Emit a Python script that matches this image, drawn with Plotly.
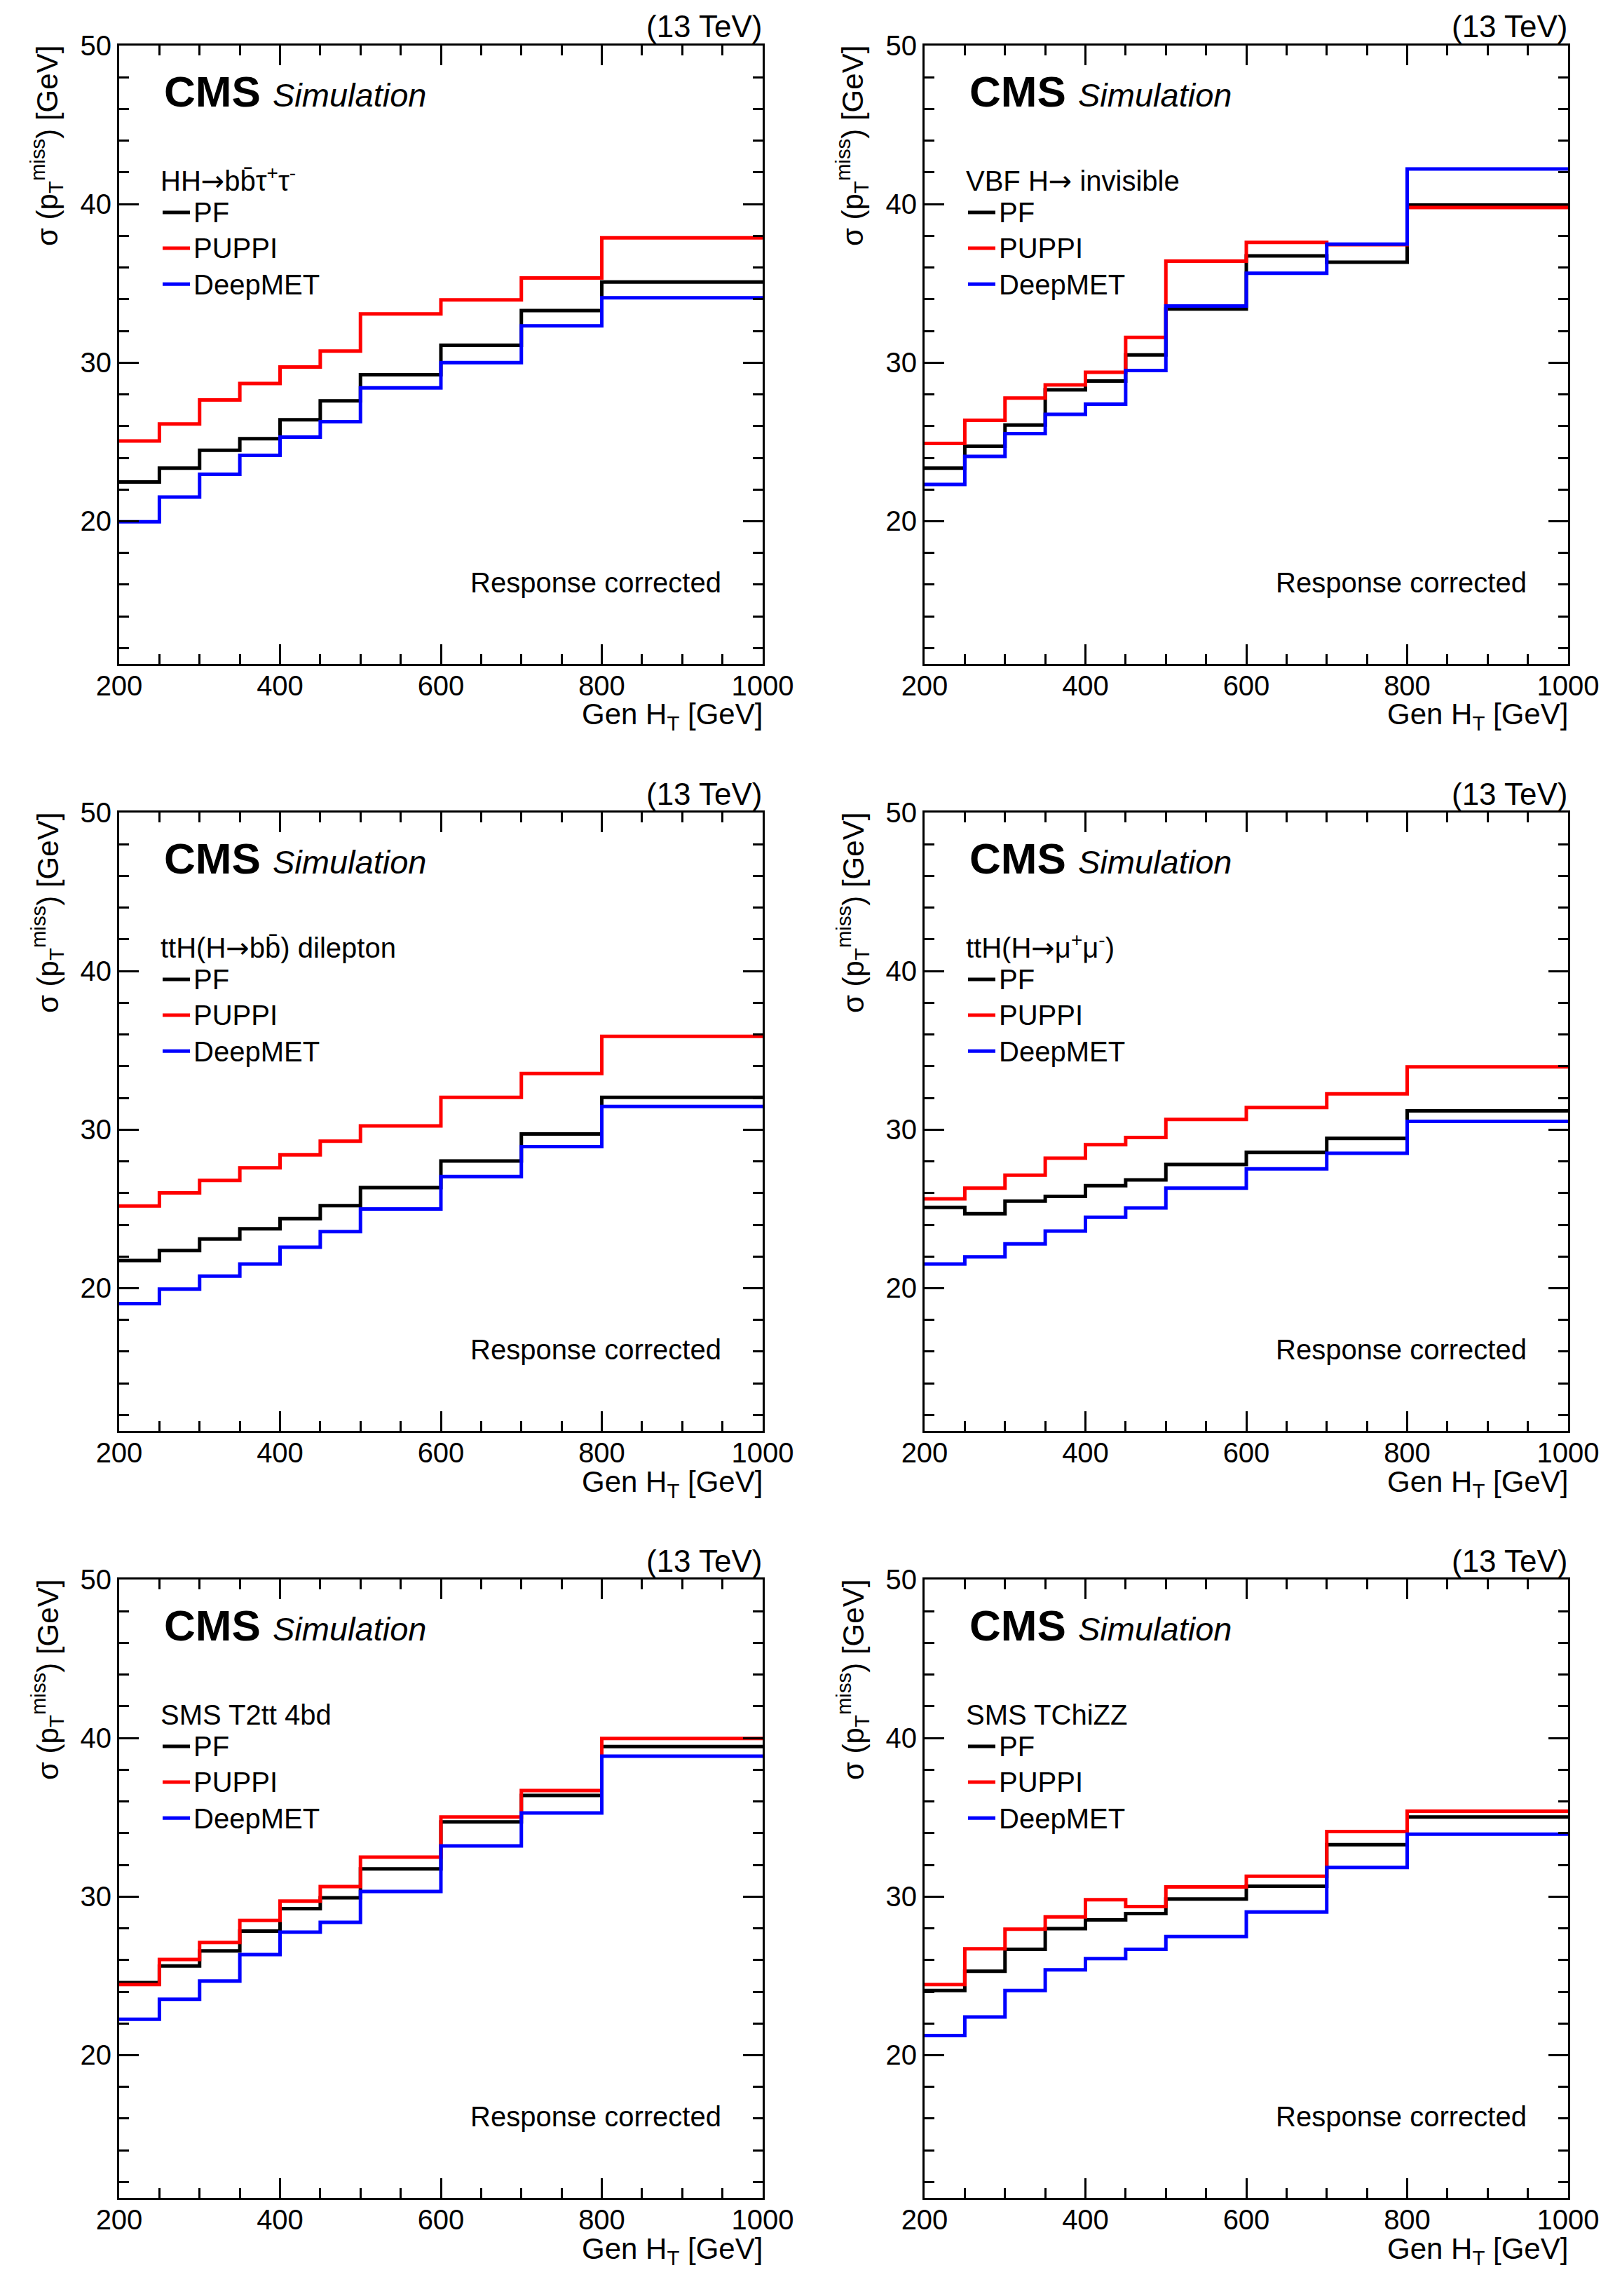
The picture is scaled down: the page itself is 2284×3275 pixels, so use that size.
import plotly.graph_objects as go

W, H = 2284, 3275

# ---------------- data ----------------
bin_edges = [200, 250, 300, 350, 400, 450, 500, 600, 700, 800, 1000]

ARROW = "<span style='font-family:DejaVu Sans'>\u2192</span>"
panel_titles = [
    "HH" + ARROW + "bb\u0304\u03c4<sup>+</sup>\u03c4<sup>-</sup>",
    "VBF H" + ARROW + " invisible",
    "ttH(H" + ARROW + "bb\u0304) dilepton",
    "ttH(H" + ARROW + "\u03bc<sup>+</sup>\u03bc<sup>-</sup>)",
    "SMS T2tt 4bd",
    "SMS TChiZZ",
]

series_names = ["PF", "PUPPI", "DeepMET"]
series_colors = ["#000000", "#ff0000", "#0000ff"]

# HH -> bb tau tau
pf_hhbbtt = [22.47, 23.35, 24.48, 25.21, 26.40, 27.59, 29.24, 31.10, 33.29, 35.09]
puppi_hhbbtt = [25.06, 26.13, 27.65, 28.69, 29.73, 30.73, 33.08, 33.96, 35.34, 37.87]
deepmet_hhbbtt = [19.97, 21.52, 22.96, 24.15, 25.30, 26.28, 28.41, 30.00, 32.32, 34.09]

# VBF H -> invisible
pf_vbfinv = [23.35, 24.73, 26.07, 28.29, 28.84, 30.49, 33.38, 36.74, 36.34, 39.94]
puppi_vbfinv = [24.91, 26.37, 27.77, 28.60, 29.39, 31.59, 36.40, 37.59, 37.44, 39.79]
deepmet_vbfinv = [22.32, 24.09, 25.52, 26.74, 27.38, 29.51, 33.57, 35.64, 37.47, 42.22]

# ttH(H -> bb) dilepton
pf_tthbb = [21.74, 22.38, 23.11, 23.75, 24.39, 25.21, 26.34, 28.02, 29.73, 32.04]
puppi_tthbb = [25.18, 26.01, 26.80, 27.59, 28.41, 29.27, 30.24, 32.04, 33.54, 35.88]
deepmet_tthbb = [19.02, 19.94, 20.76, 21.52, 22.59, 23.57, 25.00, 27.04, 28.93, 31.46]

# ttH(H -> mu mu)
pf_tthmumu = [25.09, 24.70, 25.49, 25.79, 26.46, 26.83, 27.80, 28.57, 29.45, 31.19]
puppi_tthmumu = [25.64, 26.31, 27.13, 28.20, 29.05, 29.51, 30.64, 31.40, 32.26, 33.96]
deepmet_tthmumu = [21.52, 21.98, 22.80, 23.60, 24.48, 25.06, 26.31, 27.53, 28.51, 30.52]

# SMS T2tt 4bd
pf_t2tt = [24.57, 25.63, 26.58, 27.82, 29.24, 29.92, 31.75, 34.71, 36.38, 39.47]
puppi_t2tt = [24.45, 26.03, 27.11, 28.50, 29.71, 30.63, 32.49, 35.02, 36.69, 39.97]
deepmet_t2tt = [22.26, 23.52, 24.67, 26.34, 27.76, 28.38, 30.32, 33.20, 35.27, 38.86]

# SMS TChiZZ
pf_tchizz = [24.08, 25.29, 26.68, 27.98, 28.53, 28.93, 29.85, 30.65, 33.28, 35.02]
puppi_tchizz = [24.45, 26.71, 27.95, 28.72, 29.80, 29.37, 30.61, 31.28, 34.10, 35.39]
deepmet_tchizz = [21.24, 22.41, 24.08, 25.38, 26.09, 26.68, 27.48, 29.03, 31.84, 33.94]

panel_series = [
    [pf_hhbbtt, puppi_hhbbtt, deepmet_hhbbtt],
    [pf_vbfinv, puppi_vbfinv, deepmet_vbfinv],
    [pf_tthbb, puppi_tthbb, deepmet_tthbb],
    [pf_tthmumu, puppi_tthmumu, deepmet_tthmumu],
    [pf_t2tt, puppi_t2tt, deepmet_t2tt],
    [pf_tchizz, puppi_tchizz, deepmet_tchizz],
]

x_range = [200, 1000]
y_range = [11, 50]
x_title = "Gen H<sub>T</sub> [GeV]"
y_title = "\u03c3 (p<sub>T</sub><sup>miss</sup>) [GeV]"
energy_label = "(13 TeV)"
corr_label = "Response corrected"

# ---------------- layout geometry (pixels) ----------------
FONT = "Liberation Sans, Arial, Helvetica, sans-serif"
col_left = [170, 1319]
plot_w = 918
row_top = [65, 1159, 2253]
plot_h = 882


def px(x):
    return x / W


def py(y):
    return 1 - y / H


def big(t):
    return "<span style='font-size:40px'>" + t + "</span>"


fig = go.Figure()
annotations = []

for i in range(6):
    r, c = divmod(i, 2)
    L = col_left[c]
    R = L + plot_w
    T = row_top[r]
    B = T + plot_h
    xa = "xaxis" if i == 0 else f"xaxis{i + 1}"
    ya = "yaxis" if i == 0 else f"yaxis{i + 1}"
    xref = "x" if i == 0 else f"x{i + 1}"
    yref = "y" if i == 0 else f"y{i + 1}"
    lg = "legend" if i == 0 else f"legend{i + 1}"

    for name, color, vals in zip(series_names, series_colors, panel_series[i]):
        fig.add_trace(go.Scatter(
            x=bin_edges, y=list(vals) + [vals[-1]],
            mode="lines", line=dict(color=color, width=5, shape="hv"),
            name=big(name), xaxis=xref, yaxis=yref, legend=lg,
            hoverinfo="skip",
        ))

    axis_common = dict(
        showline=True, linecolor="black", linewidth=3, mirror="allticks",
        ticks="inside", tickcolor="black", tickwidth=2.5, ticklen=28,
        showgrid=False, zeroline=False, automargin=False,
        tickfont=dict(family=FONT, size=40, color="black"),
    )
    fig.update_layout({
        xa: dict(axis_common, domain=[px(L), px(R)], range=x_range, dtick=200,
                 anchor=yref, ticklabelstandoff=-6,
                 minor=dict(dtick=50, ticks="inside", ticklen=14, tickwidth=2.5,
                            tickcolor="black", showgrid=False)),
        ya: dict(axis_common, domain=[py(B), py(T)], range=y_range, dtick=10,
                 anchor=xref,
                 minor=dict(dtick=2, ticks="inside", ticklen=14, tickwidth=2.5,
                            tickcolor="black", showgrid=False)),
        lg: dict(x=px(L + 57), y=py(T + 158), xanchor="left", yanchor="top",
                 bgcolor="rgba(0,0,0,0)", borderwidth=0, itemwidth=39,
                 tracegroupgap=0,
                 font=dict(family=FONT, size=37, color="black"),
                 title=dict(text=big(panel_titles[i]),
                            font=dict(family=FONT, size=38, color="black"))),
    })

    annotations += [
        dict(text="<b>CMS</b> <i><span style='font-size:47px'>Simulation</span></i>",
             x=px(L + 62), y=py(T + 65), xanchor="left", yanchor="middle",
             font=dict(family=FONT, size=62, color="black")),
        dict(text=energy_label, x=px(R + 2), y=py(T - 27), xanchor="right",
             yanchor="middle", font=dict(family=FONT, size=44, color="black")),
        dict(text=corr_label, x=px(L + 861), y=py(T + 766), xanchor="right",
             yanchor="middle", font=dict(family=FONT, size=40, color="black")),
        dict(text=x_title, x=px(R + 2), y=py(B + 75), xanchor="right",
             yanchor="middle", font=dict(family=FONT, size=42, color="black")),
        dict(text=y_title, x=px(L - 103), y=py(T - 2), xanchor="center",
             yanchor="top", textangle=-90,
             font=dict(family=FONT, size=42, color="black")),
    ]

for a in annotations:
    a.update(xref="paper", yref="paper", showarrow=False)

fig.update_layout(
    width=W, height=H,
    margin=dict(l=0, r=0, t=0, b=0, pad=0, autoexpand=False),
    paper_bgcolor="white", plot_bgcolor="white",
    annotations=annotations, showlegend=True,
    font=dict(family=FONT, color="black"),
)

fig.write_html(
    "out.html",
    config={"displayModeBar": False},
    post_script="document.body.style.margin='0';document.body.style.padding='0';",
)
